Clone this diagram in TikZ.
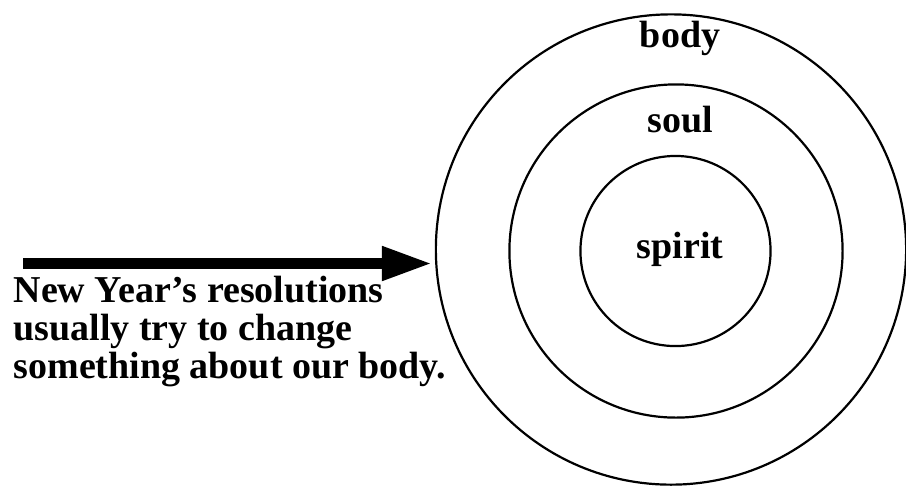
\documentclass[tikz,border=0pt]{standalone}
\usepackage{fontspec}
\setmainfont{Liberation Serif}
\usetikzlibrary{arrows.meta}
\begin{document}
\begin{tikzpicture}[x=0.01cm,y=-0.01cm,
  ring/.style={circle,draw=black,line width=0.022cm,inner sep=0pt},
  lbl/.style={font=\fontsize{10.8}{10.8}\selectfont\bfseries,inner sep=0pt},
  bigarrow/.style={line width=0.105cm,-{Triangle[length=0.5cm,width=0.32cm]}}]
\useasboundingbox (0,0) rectangle (906,487);
\node[ring,minimum size=4.7cm] (outer) at (671,249.5) {};
\node[ring,minimum size=3.33cm] (middle) at (676,251) {};
\node[ring,minimum size=1.9cm] (inner) at (675.5,251) {};
\node[lbl,anchor=base] (body) at (680,47) {body};
\node[lbl,anchor=base] (soul) at (680,132) {soul};
\node[lbl,anchor=base] (spirit) at (680,258) {spirit};
\coordinate (start) at (23,263.5);
\coordinate (tip) at (432,263.5);
\draw[bigarrow] (start) -- (tip);
\node[lbl,anchor=base west] (l1) at (13,302.5) {New Year’s resolutions};
\node[lbl,anchor=base west] (l2) at (13,340.5) {usually try to change};
\node[lbl,anchor=base west] (l3) at (13,378.5) {something about our body.};
\end{tikzpicture}
\end{document}
